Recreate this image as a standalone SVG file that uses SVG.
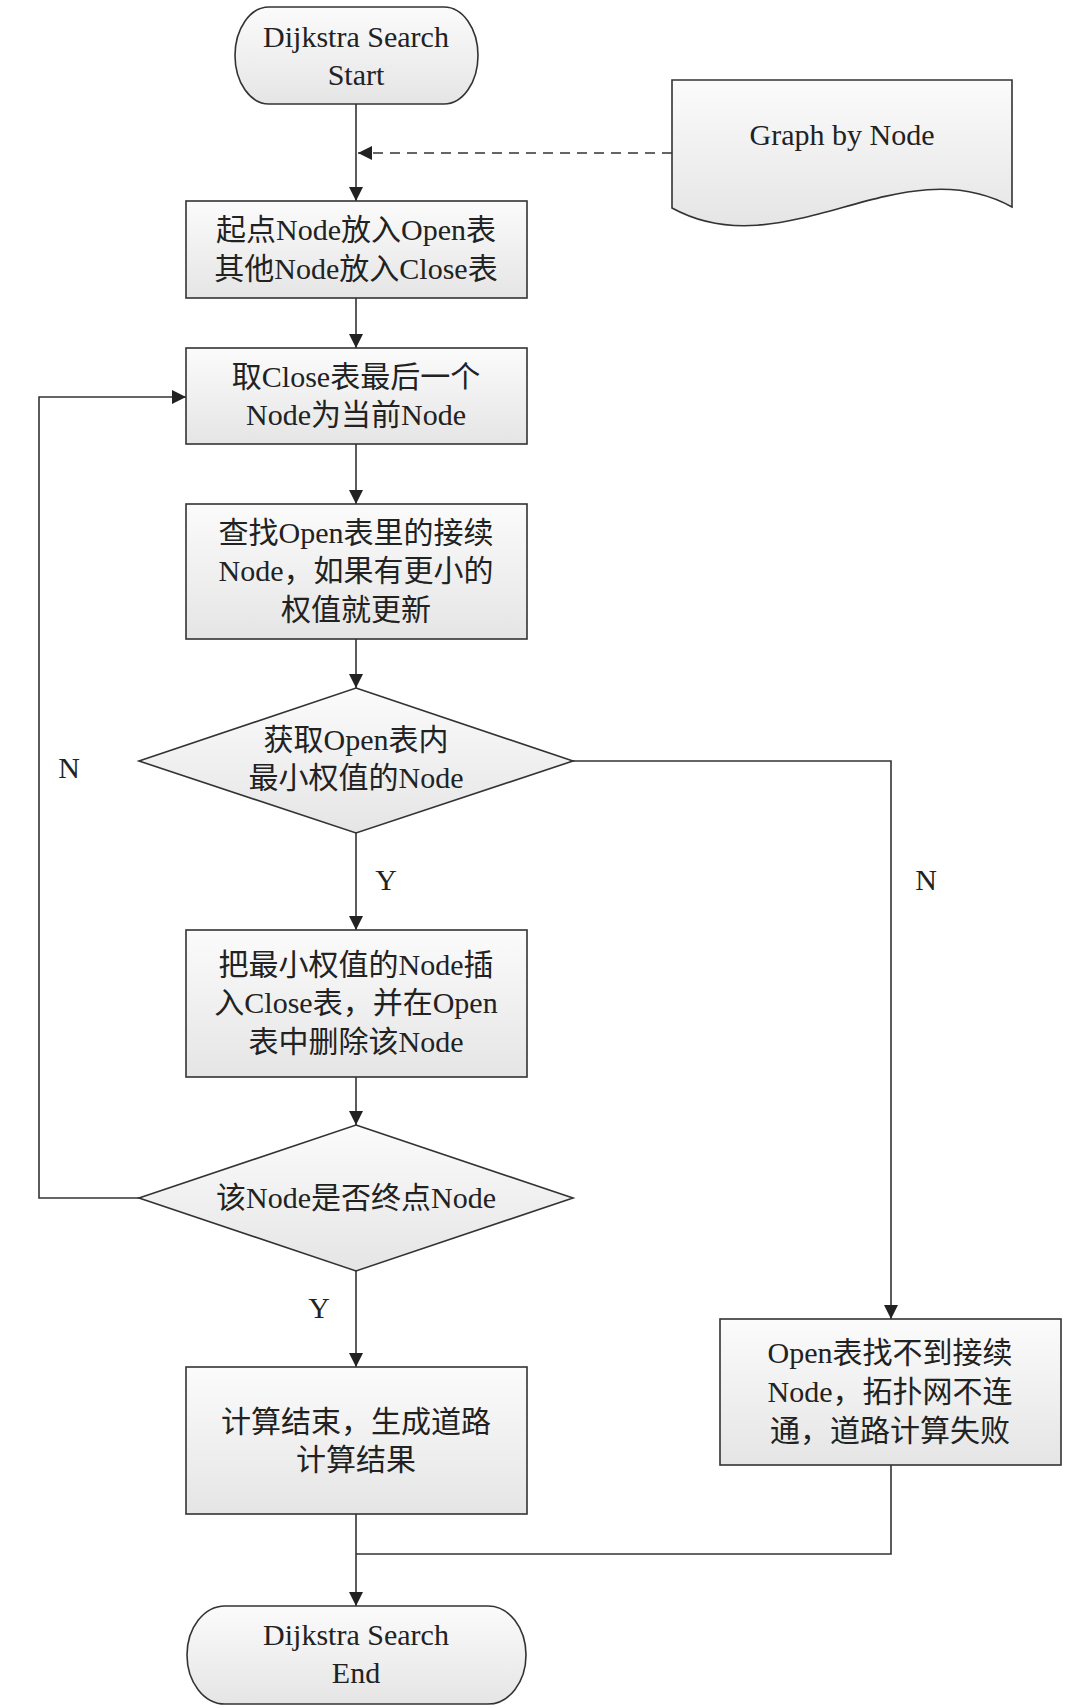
<svg xmlns="http://www.w3.org/2000/svg" width="1080" height="1708" viewBox="0 0 1080 1708">
<defs>
<linearGradient id="g" x1="0" y1="0" x2="0" y2="1">
<stop offset="0" stop-color="#fbfbfb"/>
<stop offset="1" stop-color="#e5e5e5"/>
</linearGradient>
<marker id="ah" viewBox="0 0 14 14" refX="14" refY="7" markerWidth="14" markerHeight="14" markerUnits="userSpaceOnUse" orient="auto">
<path d="M0,0 L14,7 L0,14 z" fill="#222"/>
</marker>
</defs>
<style>
.shape{fill:url(#g);stroke:#333;stroke-width:1.6}
.t{font-family:"Liberation Serif","Noto Sans CJK SC",serif;font-size:30px;fill:#222;text-anchor:middle}
.c{fill:none;stroke:#333;stroke-width:1.6}
.ar{marker-end:url(#ah)}
.dash{stroke-dasharray:10 7}
</style>
<rect width="1080" height="1708" fill="#fff"/>
<g id="connectors">
<line class="c ar" x1="356" y1="104" x2="356" y2="201"/>
<line class="c ar dash" x1="672" y1="153" x2="358" y2="153"/>
<line class="c ar" x1="356" y1="298" x2="356" y2="348"/>
<line class="c ar" x1="356" y1="444" x2="356" y2="504"/>
<line class="c ar" x1="356" y1="639" x2="356" y2="688"/>
<line class="c ar" x1="356" y1="833" x2="356" y2="930"/>
<line class="c ar" x1="356" y1="1077" x2="356" y2="1125"/>
<polyline class="c ar" points="139,1198 39,1198 39,397 186,397"/>
<polyline class="c ar" points="573,761 891,761 891,1319"/>
<line class="c ar" x1="356" y1="1271" x2="356" y2="1367"/>
<line class="c ar" x1="356" y1="1514" x2="356" y2="1606"/>
<polyline class="c" points="891,1465 891,1554 356,1554"/>
<text class="t" x="69" y="778">N</text>
<text class="t" x="926" y="890">N</text>
<text class="t" x="386" y="890">Y</text>
<text class="t" x="319" y="1318">Y</text>
</g>
<g id="start">
<rect class="shape" x="235" y="7" width="243" height="97" rx="34" ry="48.5"/>
<text class="t" x="356" y="47">Dijkstra Search</text>
<text class="t" x="356" y="85">Start</text>
</g>
<g id="graph">
<path class="shape" d="M672,80 H1012 V207 C900,145 785,270 672,208 Z"/>
<text class="t" x="842" y="145">Graph by Node</text>
</g>
<g id="box1">
<rect class="shape" x="186" y="201" width="341" height="97"/>
<text class="t" x="356" y="240">起点Node放入Open表</text>
<text class="t" x="356" y="279">其他Node放入Close表</text>
</g>
<g id="box2">
<rect class="shape" x="186" y="348" width="341" height="96"/>
<text class="t" x="356" y="387">取Close表最后一个</text>
<text class="t" x="356" y="425">Node为当前Node</text>
</g>
<g id="box3">
<rect class="shape" x="186" y="504" width="341" height="135"/>
<text class="t" x="356" y="543">查找Open表里的接续</text>
<text class="t" x="356" y="581">Node，如果有更小的</text>
<text class="t" x="356" y="620">权值就更新</text>
</g>
<g id="decision1">
<polygon class="shape" points="356,688 573,761 356,833 139,761"/>
<text class="t" x="356" y="750">获取Open表内</text>
<text class="t" x="356" y="788">最小权值的Node</text>
</g>
<g id="box4">
<rect class="shape" x="186" y="930" width="341" height="147"/>
<text class="t" x="356" y="975">把最小权值的Node插</text>
<text class="t" x="356" y="1013">入Close表，并在Open</text>
<text class="t" x="356" y="1052">表中删除该Node</text>
</g>
<g id="decision2">
<polygon class="shape" points="356,1125 573,1198 356,1271 139,1198"/>
<text class="t" x="356" y="1208">该Node是否终点Node</text>
</g>
<g id="box5">
<rect class="shape" x="186" y="1367" width="341" height="147"/>
<text class="t" x="356" y="1432">计算结束，生成道路</text>
<text class="t" x="356" y="1470">计算结果</text>
</g>
<g id="fail">
<rect class="shape" x="720" y="1319" width="341" height="146"/>
<text class="t" x="890" y="1363">Open表找不到接续</text>
<text class="t" x="890" y="1402">Node，拓扑网不连</text>
<text class="t" x="890" y="1441">通，道路计算失败</text>
</g>
<g id="end">
<rect class="shape" x="187" y="1606" width="339" height="98" rx="38" ry="49"/>
<text class="t" x="356" y="1645">Dijkstra Search</text>
<text class="t" x="356" y="1683">End</text>
</g>
</svg>
